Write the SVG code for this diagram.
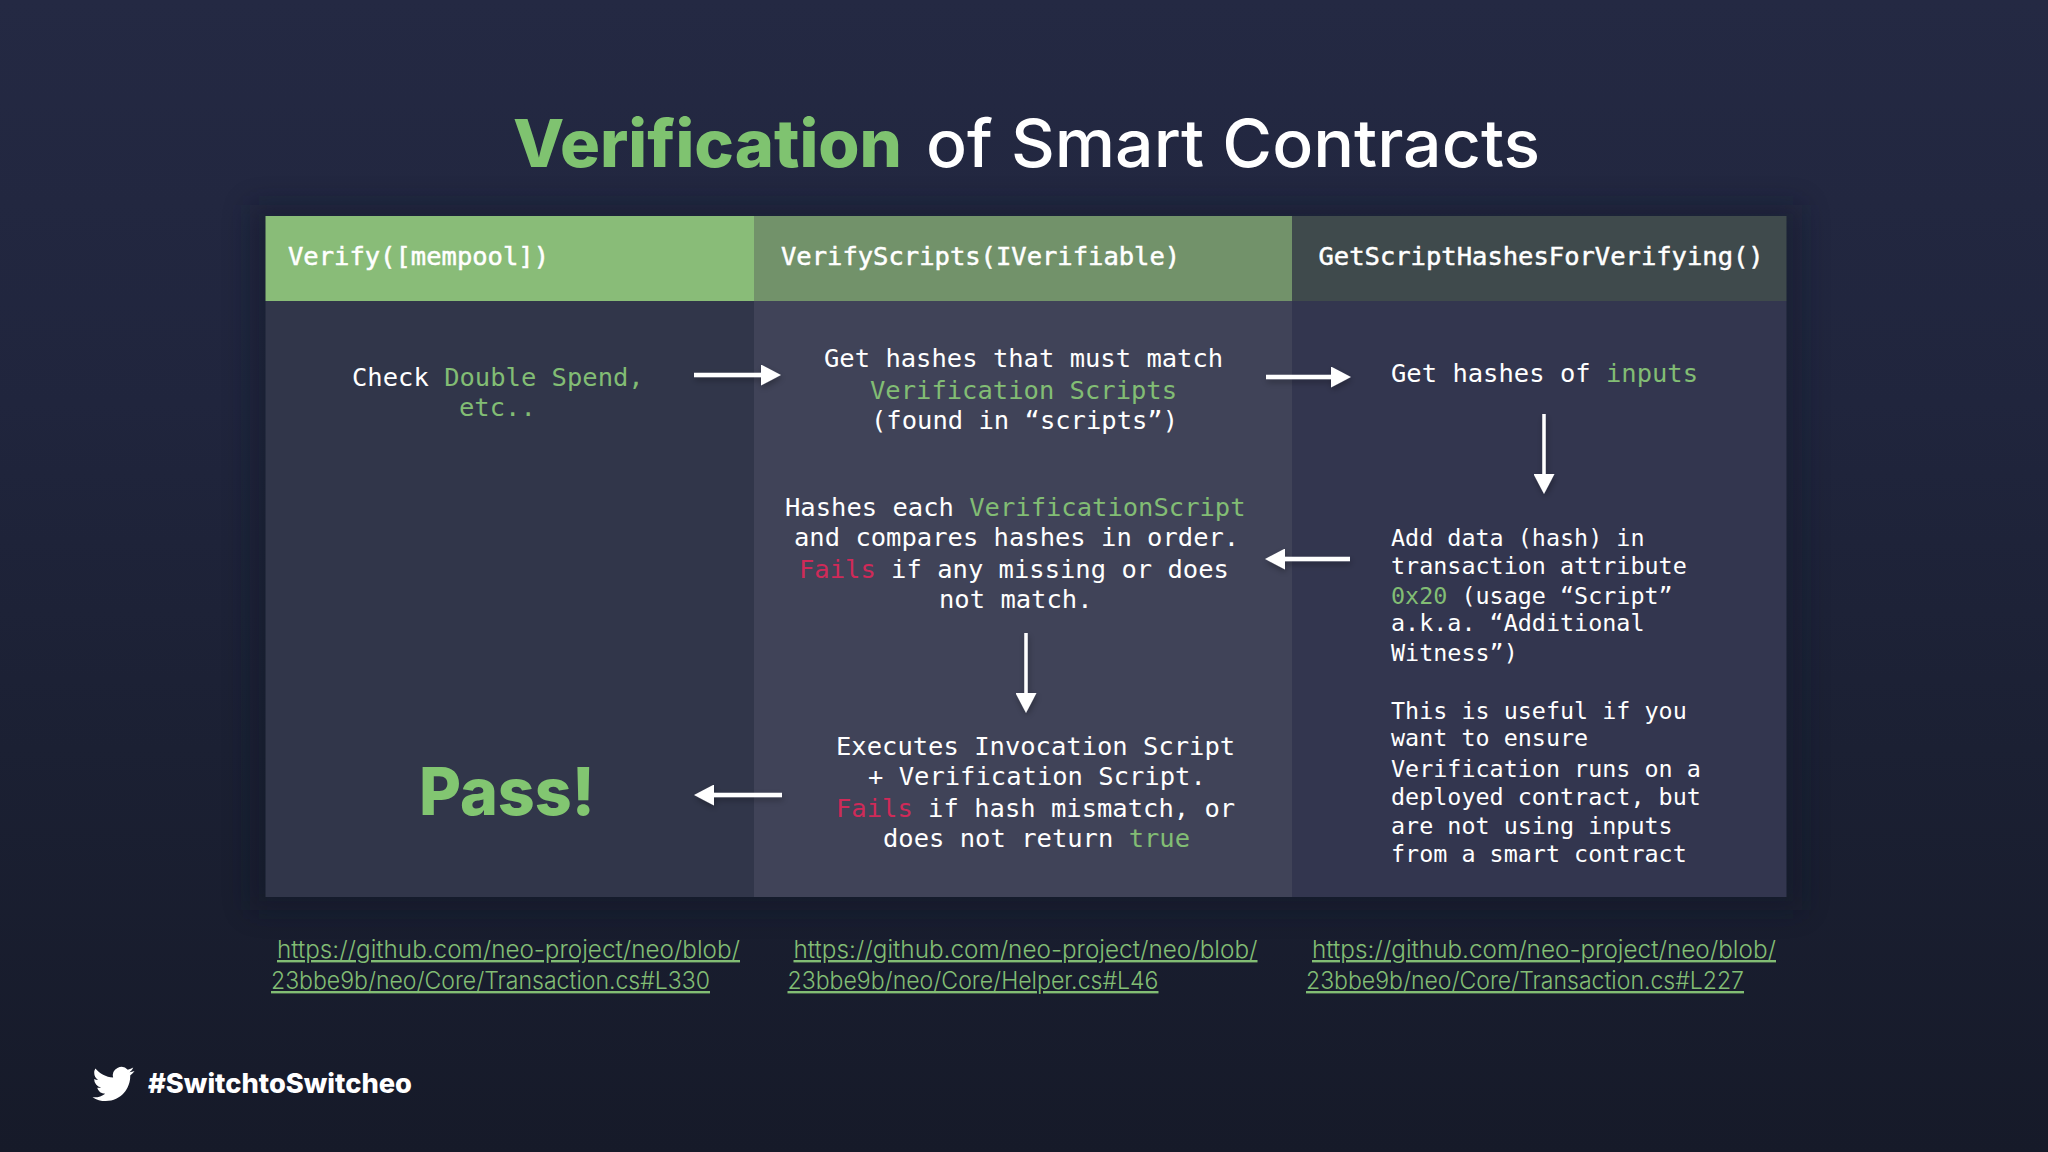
<svg xmlns="http://www.w3.org/2000/svg" width="2048" height="1152" viewBox="0 0 2048 1152">
<defs>
<linearGradient id="bg" x1="0" y1="0" x2="0" y2="1"><stop offset="0" stop-color="#242943"/><stop offset="0.35" stop-color="#20253d"/><stop offset="0.65" stop-color="#1b2033"/><stop offset="1" stop-color="#161a29"/></linearGradient>
<filter id="panelShadow" x="-10%" y="-15%" width="120%" height="130%"><feGaussianBlur stdDeviation="14"/></filter>
<filter id="arrowShadow" x="-30%" y="-30%" width="160%" height="160%"><feDropShadow dx="1" dy="3" stdDeviation="3" flood-color="#000" flood-opacity="0.3"/></filter>
<marker id="head" markerUnits="userSpaceOnUse" markerWidth="20" markerHeight="21" refX="0" refY="10.500" orient="auto"><path d="M0 0L20 10.500L0 21Z" fill="#fff"/></marker>
</defs>
<style>
.m{font-family:"DejaVu Sans Mono","Liberation Mono",monospace;font-size:25.5px;fill:#fff}
.s{font-size:23.4px}
.g{fill:#82bd74}
.r{fill:#cf2a58}
.h{stroke:#fff;stroke-width:0.5px}
.t{font-family:Inter,"Noto Sans",sans-serif;font-size:66px;fill:#fff;font-weight:500}
.l{font-family:Inter,"Open Sans",sans-serif;font-size:24px;font-weight:300;fill:#82bd74;text-decoration:underline;text-decoration-thickness:1.500px}
.c{stroke:#fff;stroke-width:4.500;fill:none;marker-end:url(#head)}
</style>
<rect width="2048" height="1152" fill="url(#bg)"/>
<rect x="250" y="205" width="1552" height="705" fill="#111528" opacity="0.4" filter="url(#panelShadow)"/>
<g id="title"><text class="t" y="167"><tspan x="513" textLength="389" lengthAdjust="spacingAndGlyphs" font-weight="800" fill="#7fc370">Verification</tspan><tspan x="926" textLength="614" lengthAdjust="spacingAndGlyphs">of Smart Contracts</tspan></text></g>
<g id="col1">
<rect x="265.500" y="216" width="488.500" height="85" fill="#89bc78"/>
<rect x="265.500" y="301" width="488.500" height="596" fill="#31364a"/>
<text class="m h" x="288" y="265">Verify([mempool])</text>
<text class="m" x="352" y="386">Check <tspan class="g">Double Spend,</tspan></text>
<text class="m g" x="459" y="416">etc..</text>
</g>
<g id="col2">
<rect x="754" y="216" width="538" height="85" fill="#72926a"/>
<rect x="754" y="301" width="538" height="596" fill="#404358"/>
<text class="m h" x="781" y="265">VerifyScripts(IVerifiable)</text>
<text class="m" x="824" y="367">Get hashes that must match</text>
<text class="m g" x="870" y="399">Verification Scripts</text>
<text class="m" x="871" y="429">(found in “scripts”)</text>
<text class="m" x="785" y="516">Hashes each <tspan class="g">VerificationScript</tspan></text>
<text class="m" x="794" y="546">and compares hashes in order.</text>
<text class="m" x="799" y="578"><tspan class="r">Fails</tspan> if any missing or does</text>
<text class="m" x="939" y="608">not match.</text>
<text class="m" x="836" y="755">Executes Invocation Script</text>
<text class="m" x="868" y="785">+ Verification Script.</text>
<text class="m" x="836" y="817"><tspan class="r">Fails</tspan> if hash mismatch, or</text>
<text class="m" x="883" y="847">does not return <tspan class="g">true</tspan></text>
</g>
<g id="col3">
<rect x="1292" y="216" width="494.500" height="85" fill="#3f4a4c"/>
<rect x="1292" y="301" width="494.500" height="596" fill="#33364f"/>
<text class="m h" x="1318.500" y="265">GetScriptHashesForVerifying()</text>
<text class="m" x="1391" y="382">Get hashes of <tspan class="g">inputs</tspan></text>
<text class="m s" x="1391" y="546">Add data (hash) in</text>
<text class="m s" x="1391" y="574">transaction attribute</text>
<text class="m s" x="1391" y="604"><tspan class="g">0x20</tspan> (usage “Script”</text>
<text class="m s" x="1391" y="631">a.k.a. “Additional</text>
<text class="m s" x="1391" y="661">Witness”)</text>
<text class="m s" x="1391" y="719">This is useful if you</text>
<text class="m s" x="1391" y="746">want to ensure</text>
<text class="m s" x="1391" y="777">Verification runs on a</text>
<text class="m s" x="1391" y="805">deployed contract, but</text>
<text class="m s" x="1391" y="834">are not using inputs</text>
<text class="m s" x="1391" y="862">from a smart contract</text>
</g>
<g id="pass"><text x="419" y="815" textLength="176" lengthAdjust="spacingAndGlyphs" font-family="Inter,sans-serif" font-size="66" font-weight="800" fill="#82c671">Pass!</text></g>
<g id="connectors" filter="url(#arrowShadow)">
<line class="c" x1="694" y1="375" x2="761" y2="375"/>
<line class="c" x1="1266" y1="377" x2="1331" y2="377"/>
<line class="c" x1="1544" y1="414" x2="1544" y2="474" style="stroke-width:3.500"/>
<line class="c" x1="1350" y1="559" x2="1285" y2="559"/>
<line class="c" x1="1026" y1="633" x2="1026" y2="693" style="stroke-width:3.500"/>
<line class="c" x1="782" y1="795" x2="714" y2="795"/>
</g>
<g id="links">
<text class="l" x="277" y="958" textLength="463" lengthAdjust="spacingAndGlyphs">https://github.com/neo-project/neo/blob/</text>
<text class="l" x="271" y="989" textLength="439" lengthAdjust="spacingAndGlyphs">23bbe9b/neo/Core/Transaction.cs#L330</text>
<text class="l" x="793.500" y="958" textLength="464" lengthAdjust="spacingAndGlyphs">https://github.com/neo-project/neo/blob/</text>
<text class="l" x="787.500" y="989" textLength="371" lengthAdjust="spacingAndGlyphs">23bbe9b/neo/Core/Helper.cs#L46</text>
<text class="l" x="1312" y="958" textLength="464" lengthAdjust="spacingAndGlyphs">https://github.com/neo-project/neo/blob/</text>
<text class="l" x="1306" y="989" textLength="438" lengthAdjust="spacingAndGlyphs">23bbe9b/neo/Core/Transaction.cs#L227</text>
</g>
<g id="footer">
<path fill="#fff" transform="translate(92.500 1063) scale(1.75)" d="M23.953 4.57a10 10 0 01-2.825.775 4.958 4.958 0 002.163-2.723c-.951.555-2.005.959-3.127 1.184a4.92 4.92 0 00-8.384 4.482C7.69 8.095 4.067 6.13 1.64 3.162a4.822 4.822 0 00-.666 2.475c0 1.71.87 3.213 2.188 4.096a4.904 4.904 0 01-2.228-.616v.06a4.923 4.923 0 003.946 4.827 4.996 4.996 0 01-2.212.085 4.936 4.936 0 004.604 3.417 9.867 9.867 0 01-6.102 2.105c-.39 0-.779-.023-1.17-.067a13.995 13.995 0 007.557 2.209c9.053 0 13.998-7.496 13.998-13.985 0-.21 0-.42-.015-.63A9.935 9.935 0 0024 4.59z"/>
<text x="148" y="1093" textLength="264" lengthAdjust="spacingAndGlyphs" font-family="Inter,sans-serif" font-size="27" font-weight="800" fill="#fff">#SwitchtoSwitcheo</text>
</g>
</svg>
